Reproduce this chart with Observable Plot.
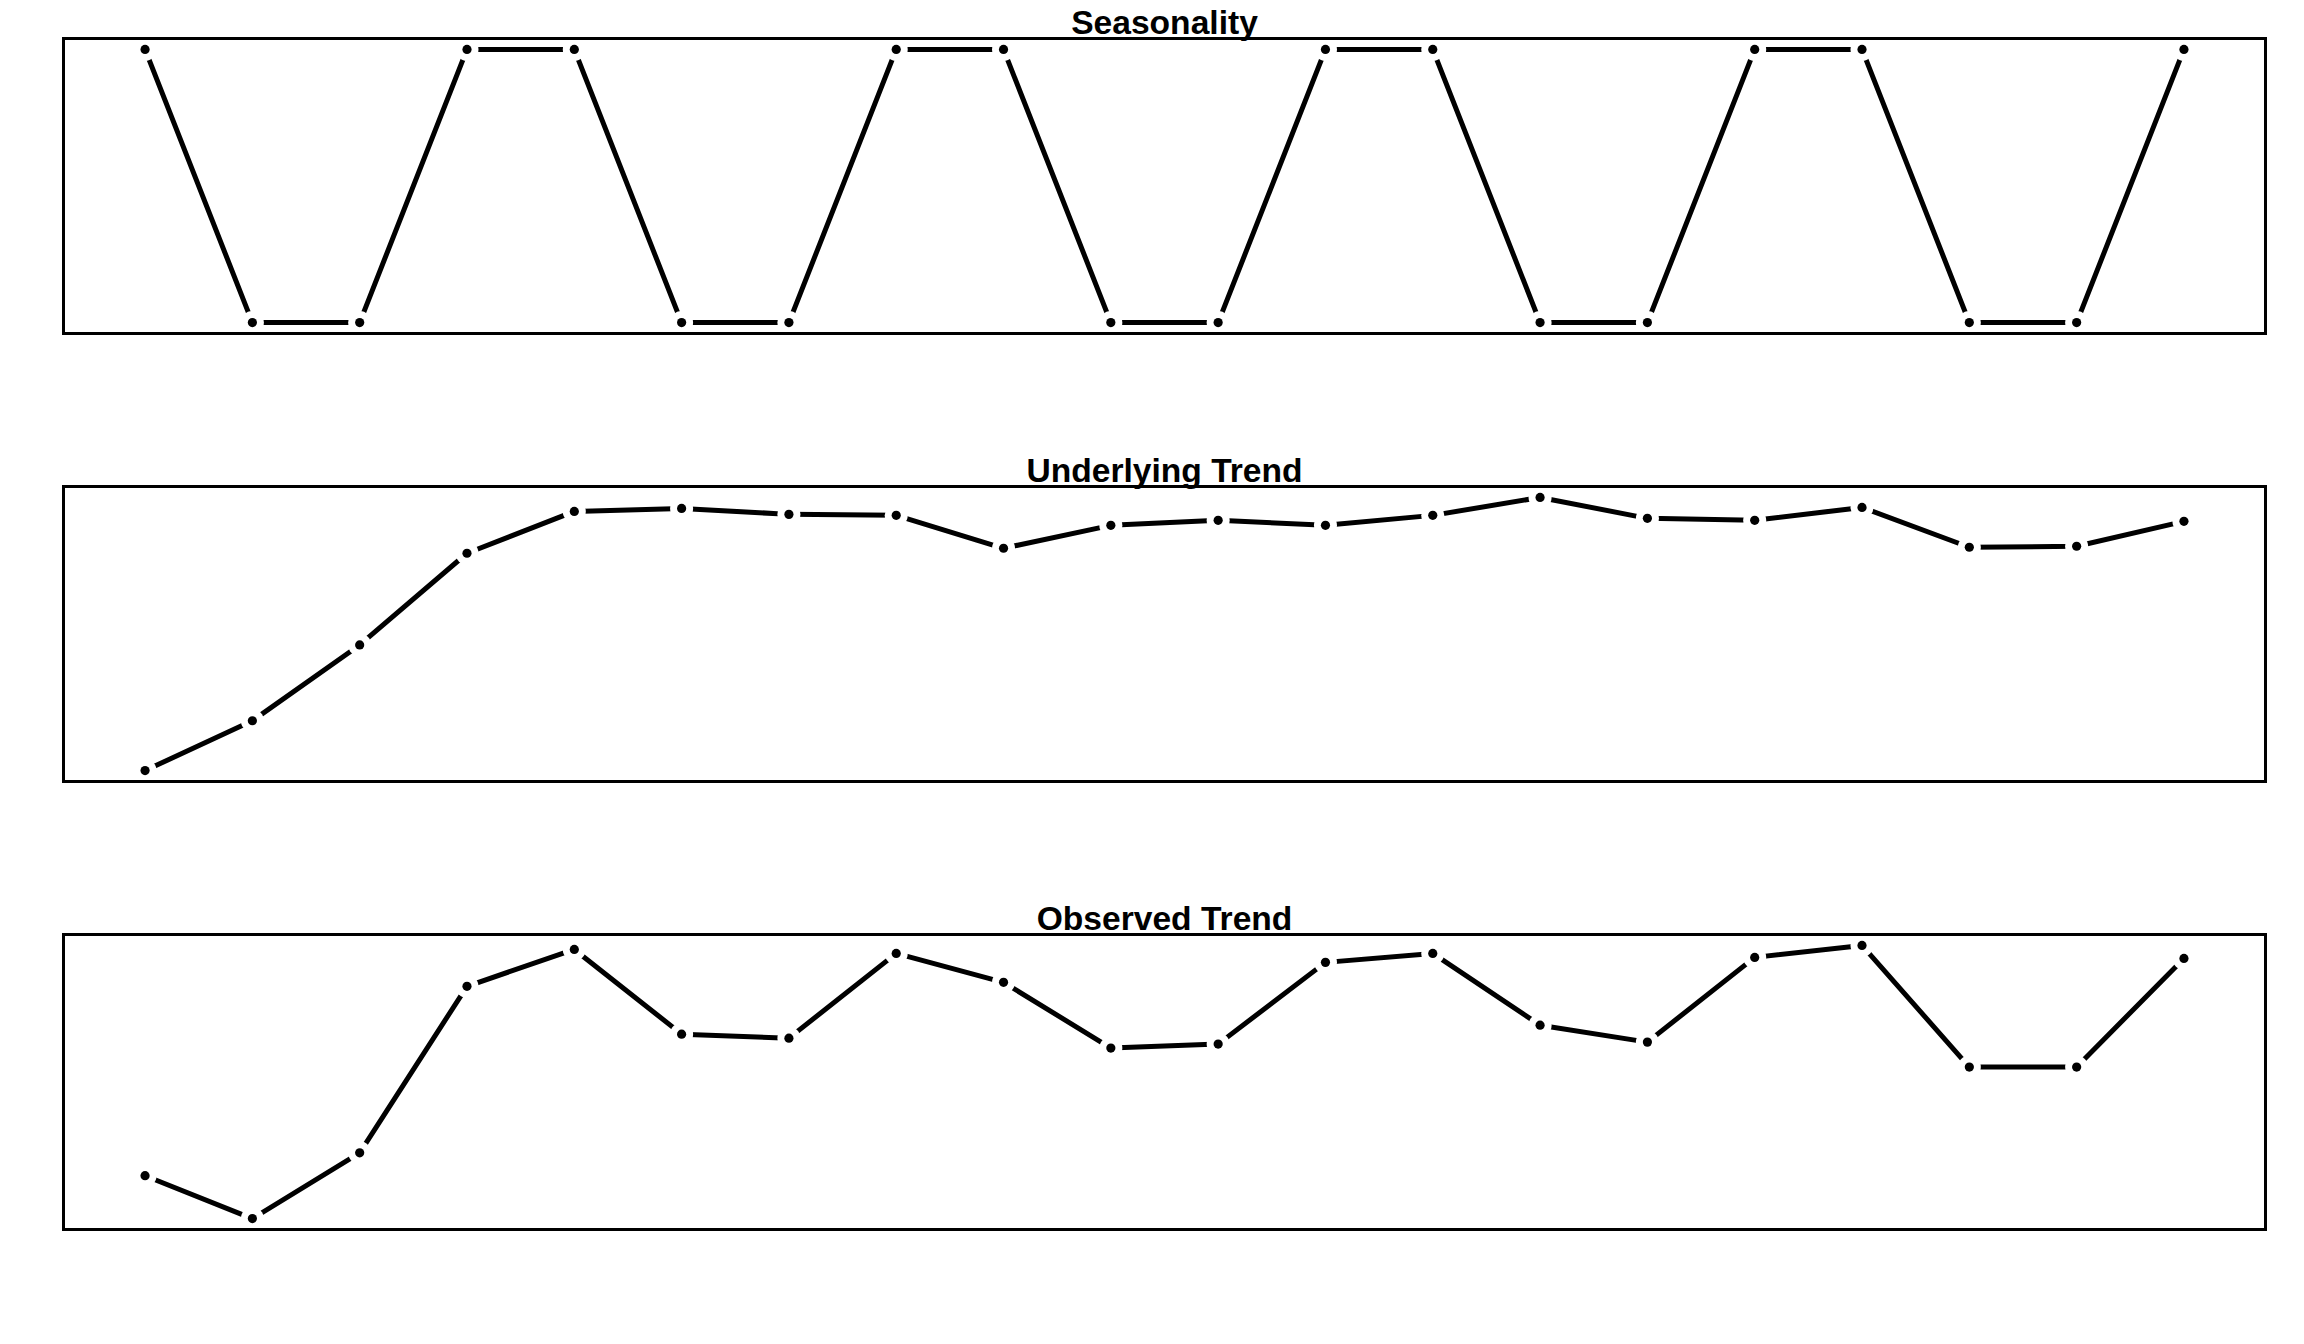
<!DOCTYPE html>
<html>
<head>
<meta charset="utf-8">
<script src="https://cdn.jsdelivr.net/npm/d3@7"></script>
<script src="https://cdn.jsdelivr.net/npm/@observablehq/plot@0.6"></script>
<style>
  html, body { margin: 0; padding: 0; background: #ffffff; }
  #chart { width: 2304px; height: 1344px; overflow: hidden; }
  #chart svg { display: block; }
</style>
</head>
<body>
<div id="chart"></div>
<script>
// ---- data ----
const period = [1, 2, 3, 4, 5, 6, 7, 8, 9, 10, 11, 12, 13, 14, 15, 16, 17, 18, 19, 20];
const seasonality = [1, -1, -1, 1, 1, -1, -1, 1, 1, -1, -1, 1, 1, -1, -1, 1, 1, -1, -1, 1];
const underlyingTrend = [1.0, 6.0, 13.6, 22.8, 27.0, 27.3, 26.7, 26.6, 23.3, 25.6, 26.1, 25.6, 26.6, 28.4, 26.3, 26.1, 27.4, 23.4, 23.5, 26.0];
const observedTrend = [5.5, 1.2, 7.8, 24.5, 28.2, 19.7, 19.3, 27.8, 24.9, 18.3, 18.7, 26.9, 27.8, 20.6, 18.9, 27.4, 28.6, 16.4, 16.4, 27.3];
const panelTitles = ["Seasonality", "Underlying Trend", "Observed Trend"];

// R-style 4% axis expansion
function expand(ext) {
  const pad = (ext[1] - ext[0]) * 0.04;
  return [ext[0] - pad, ext[1] + pad];
}

function panel(title, values) {
  const data = period.map((p, i) => ({p, v: values[i]}));
  return Plot.plot({
    width: 2304,
    height: 448,
    marginTop: 38,
    marginBottom: 115,
    marginLeft: 63,
    marginRight: 39,
    style: {background: "white", overflow: "visible"},
    x: {domain: expand(d3.extent(period)), axis: null},
    y: {domain: expand(d3.extent(values)), axis: null},
    marks: [
      Plot.line(data, {x: "p", y: "v", stroke: "black", strokeWidth: 5, strokeLinejoin: "round"}),
      Plot.dot(data, {x: "p", y: "v", r: 11.5, fill: "white", stroke: null}),
      Plot.dot(data, {x: "p", y: "v", r: 4.6, fill: "black", stroke: null}),
      Plot.frame({stroke: "black", strokeWidth: 3}),
      Plot.text([title], {
        text: d => d,
        frameAnchor: "top",
        lineAnchor: "bottom",
        dy: -4.4,
        fontSize: 33.6,
        fontWeight: "bold",
        fontFamily: "'Liberation Sans', Arial, sans-serif",
        fill: "black"
      })
    ]
  });
}

const chart = document.getElementById("chart");
chart.append(panel(panelTitles[0], seasonality));
chart.append(panel(panelTitles[1], underlyingTrend));
chart.append(panel(panelTitles[2], observedTrend));
</script>
</body>
</html>
